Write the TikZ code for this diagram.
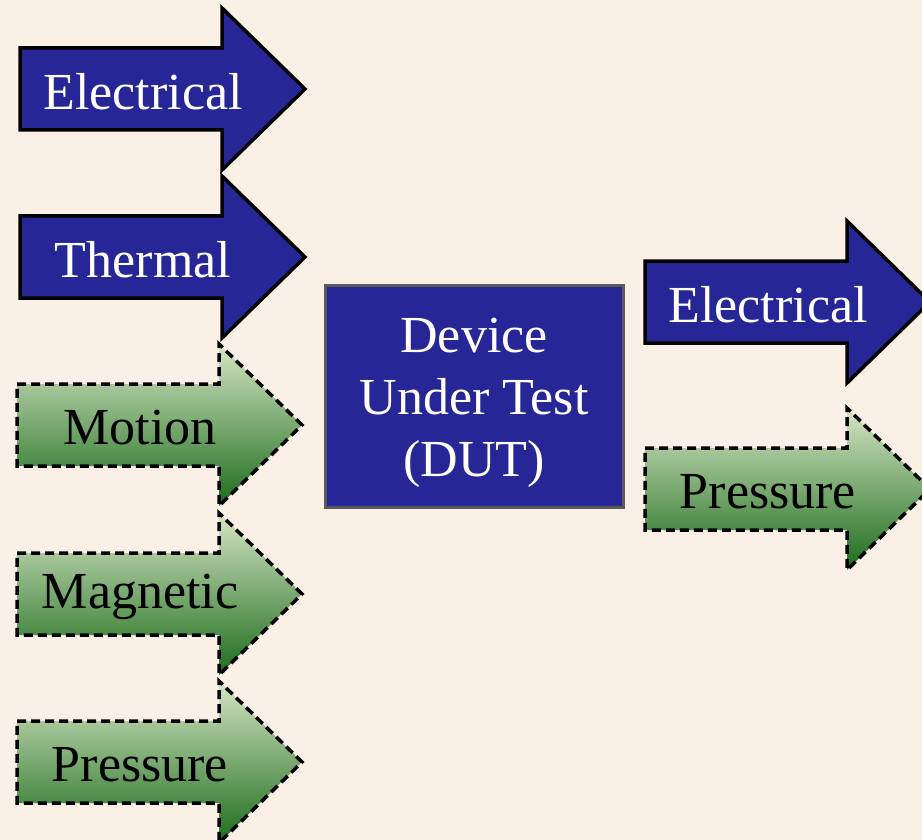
\documentclass[tikz,border=0pt]{standalone}
\usepackage{fontspec}
\setmainfont{Liberation Serif}
\usetikzlibrary{calc}

\definecolor{bgcream}{RGB}{251,240,230}
\definecolor{dutblue}{RGB}{38,38,150}
\definecolor{greenlight}{RGB}{214,229,196}
\definecolor{greenmid}{RGB}{150,186,112}
\definecolor{greendark}{RGB}{28,108,28}
\definecolor{boxgray}{RGB}{90,90,90}

\tikzset{
  solidarrow/.style={fill=dutblue, draw=black, line width=3.5pt, line join=miter},
  dashedarrow/.style={top color=greenlight, middle color=greenmid, bottom color=greendark,
    draw=black, line width=3.5pt, dash pattern=on 9pt off 5pt},
  whitelabel/.style={text=white, font=\fontsize{52}{62}\selectfont, inner sep=0pt},
  blacklabel/.style={text=black, font=\fontsize{52}{62}\selectfont, inner sep=0pt},
  dutbox/.style={fill=dutblue, draw=boxgray, line width=3pt,
    minimum width=298pt, minimum height=222pt},
  dutlabel/.style={text=white, align=center, inner sep=0pt,
    font=\fontsize{52}{62}\selectfont}
}

% arrow shape: style, label style, shaft left x, centre y, name, text
\newcommand{\signalarrow}[6]{%
  \draw[#1] (#3,#4-41) -- ++(202,0) -- ++(0,-40) -- (#3+285,#4)
    -- (#3+202,#4+81) -- ++(0,-40) -- (#3,#4+41) -- cycle;
  \node[#2] (#5) at (#3+123,#4+3) {#6};
}

\begin{document}
\begin{tikzpicture}[x=1pt,y=-1pt]

% Background
\fill[bgcream] (0,0) rectangle (922,840);
\useasboundingbox (0,0) rectangle (922,840);
\clip (0,0) rectangle (922,840);

% Inputs
\signalarrow{solidarrow}{whitelabel}{20}{89}{inelec}{Electrical}
\signalarrow{solidarrow}{whitelabel}{20}{257}{intherm}{Thermal}
\signalarrow{dashedarrow}{blacklabel}{17}{425}{inmotion}{Motion}
\signalarrow{dashedarrow}{blacklabel}{17}{594}{inmag}{Magnetic}
\signalarrow{dashedarrow}{blacklabel}{17}{762}{inpress}{Pressure}

% Device under test
\node[dutbox] (dut) at (474,396) {};
\node[dutlabel] (dutname) at ($(dut.center)+(0,7)$) {Device\\Under Test\\(DUT)};

% Outputs
\signalarrow{solidarrow}{whitelabel}{645}{302}{outelec}{Electrical}
\signalarrow{dashedarrow}{blacklabel}{645}{489}{outpress}{Pressure}

\end{tikzpicture}
\end{document}
